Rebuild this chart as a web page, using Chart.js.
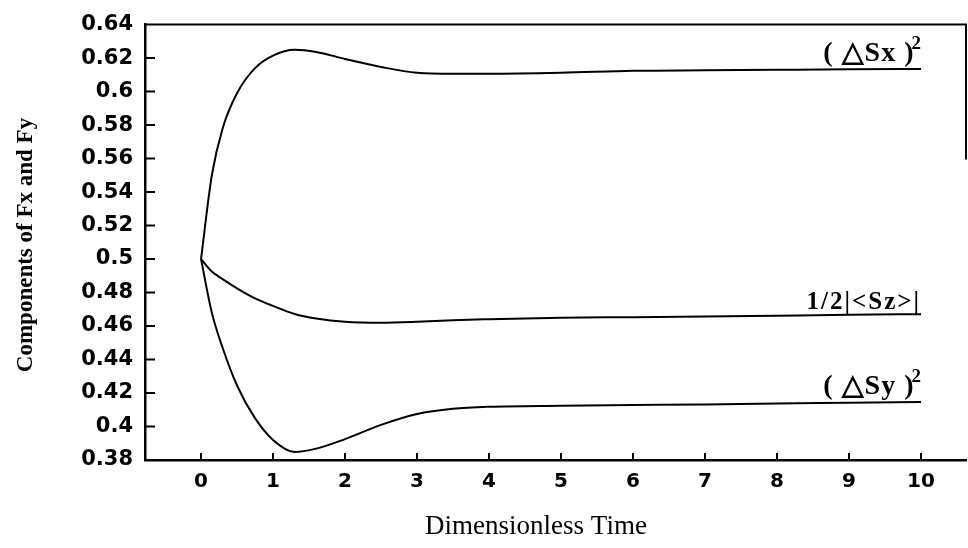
<!DOCTYPE html>
<html>
<head>
<meta charset="utf-8">
<script src="https://cdn.jsdelivr.net/npm/chart.js@4"></script>
<style>
  body { margin: 0; background: #fff; }
  canvas { display: block; }
</style>
</head>
<body>
<canvas id="chart" width="968" height="548"></canvas>
<script>
const timeValues = [0, 0.15, 0.3, 0.5, 0.75, 1.0, 1.3, 1.6, 2.0, 2.5, 3.0, 3.5, 4.0, 5.0, 6.0, 7.0, 8.0, 9.0, 10.0];
const sxValues = [0.5, 0.55, 0.578, 0.599, 0.614, 0.6215, 0.625, 0.6237, 0.6195, 0.6147, 0.6112, 0.6106, 0.6106, 0.6112, 0.6124, 0.6127, 0.613, 0.6133, 0.6135];
const szValues = [0.5, 0.4925, 0.488, 0.4825, 0.4765, 0.472, 0.4672, 0.4645, 0.4625, 0.4619, 0.4625, 0.4635, 0.4641, 0.465, 0.4653, 0.4657, 0.4662, 0.4667, 0.4671];
const syValues = [0.5, 0.468, 0.447, 0.4245, 0.405, 0.392, 0.3848, 0.3868, 0.3925, 0.401, 0.4075, 0.4106, 0.4118, 0.4124, 0.4128, 0.4132, 0.4138, 0.4142, 0.4147];

const xTickValues = [0, 1, 2, 3, 4, 5, 6, 7, 8, 9, 10];
const yTickValues = [0.38, 0.4, 0.42, 0.44, 0.46, 0.48, 0.5, 0.52, 0.54, 0.56, 0.58, 0.6, 0.62, 0.64];

const seriesNames = ['( \u25B3Sx )', '1/2|<Sz>|', '( \u25B3Sy )'];
const seriesSup = ['2', '', '2'];

function toPoints(values) {
    return timeValues.map((t, i) => ({ x: t, y: values[i] }));
}

const lineStyle = {
    borderColor: '#000',
    borderWidth: 2,
    pointRadius: 0,
    cubicInterpolationMode: 'monotone',
    fill: false,
};

const decorations = {
    id: 'decorations',
    afterDraw(chart) {
        const ctx = chart.ctx;
        const area = chart.chartArea;
        const xs = chart.scales.x;
        const ys = chart.scales.y;
        ctx.save();
        ctx.strokeStyle = '#000';
        ctx.fillStyle = '#000';

        // inward tick marks
        ctx.lineWidth = 2;
        ctx.beginPath();
        yTickValues.slice(1, -1).forEach(v => {
            const py = ys.getPixelForValue(v);
            ctx.moveTo(area.left, py);
            ctx.lineTo(area.left + 10, py);
        });
        xTickValues.forEach(v => {
            const px = xs.getPixelForValue(v);
            ctx.moveTo(px, area.bottom);
            ctx.lineTo(px, area.bottom - 7);
        });
        ctx.stroke();

        // frame: top and upper part of the right side
        ctx.beginPath();
        ctx.moveTo(area.left, area.top);
        ctx.lineTo(area.right, area.top);
        ctx.lineTo(area.right, area.top + (area.bottom - area.top) * 0.31);
        ctx.stroke();

        // axis titles
        ctx.font = '27px "Liberation Serif"';
        ctx.textAlign = 'center';
        ctx.textBaseline = 'middle';
        ctx.fillText('Dimensionless Time', 536, 527);

        ctx.save();
        ctx.translate(26, 245);
        ctx.rotate(-Math.PI / 2);
        ctx.font = 'bold 23px "Liberation Serif"';
        ctx.fillText('Components of Fx and Fy', 0, 0);
        ctx.restore();

        // curve labels at the right end
        const right = xs.getPixelForValue(10);
        chart.data.datasets.forEach((ds, i) => {
            const last = ds.data[ds.data.length - 1];
            const ly = ys.getPixelForValue(last.y);
            ctx.textAlign = 'right';
            ctx.textBaseline = 'alphabetic';
            let x = right;
            if (seriesSup[i]) {
                ctx.font = 'bold 19px "Liberation Serif"';
                ctx.fillText(seriesSup[i], x, ly - 20);
                x -= ctx.measureText(seriesSup[i]).width - 3;
                ctx.font = 'bold 28px "Liberation Serif"';
                ctx.letterSpacing = '1px';
                ctx.fillText(seriesNames[i], x, ly - 8);
            } else {
                ctx.font = 'bold 25px "Liberation Serif"';
                ctx.letterSpacing = '2px';
                ctx.fillText(seriesNames[i], x, ly - 5);
            }
            ctx.letterSpacing = '0px';
        });
        ctx.restore();
    }
};

const ctx = document.getElementById('chart').getContext('2d');

new Chart(ctx, {
    type: 'line',
    data: {
        datasets: [
            { label: seriesNames[0], data: toPoints(sxValues), ...lineStyle },
            { label: seriesNames[1], data: toPoints(szValues), ...lineStyle },
            { label: seriesNames[2], data: toPoints(syValues), ...lineStyle },
        ],
    },
    options: {
        responsive: false,
        devicePixelRatio: 1,
        animation: false,
        layout: { padding: { top: 18, right: 2, left: 0, bottom: 0 } },
        plugins: {
            legend: { display: false },
            tooltip: { enabled: false },
        },
        scales: {
            x: {
                type: 'linear',
                min: -0.778,
                max: 10.625,
                afterFit: s => { s.height = 88; },
                afterBuildTicks: s => { s.ticks = xTickValues.map(v => ({ value: v })); },
                grid: { drawOnChartArea: false, drawTicks: false },
                border: { color: '#000', width: 2.5 },
                ticks: {
                    color: '#000',
                    padding: 10,
                    maxRotation: 0,
                    autoSkip: false,
                    font: { family: 'DejaVu Sans', weight: 'bold', size: 20 },
                },
            },
            y: {
                min: 0.38,
                max: 0.64,
                afterFit: s => { s.width = 145; },
                afterBuildTicks: s => { s.ticks = yTickValues.map(v => ({ value: v })); },
                grid: { drawOnChartArea: false, drawTicks: false },
                border: { color: '#000', width: 2.5 },
                ticks: {
                    color: '#000',
                    padding: 12,
                    autoSkip: false,
                    font: { family: 'DejaVu Sans', weight: 'bold', size: 21 },
                    callback: v => String(+v.toFixed(2)),
                },
            },
        },
    },
    plugins: [decorations],
});
</script>
</body>
</html>
